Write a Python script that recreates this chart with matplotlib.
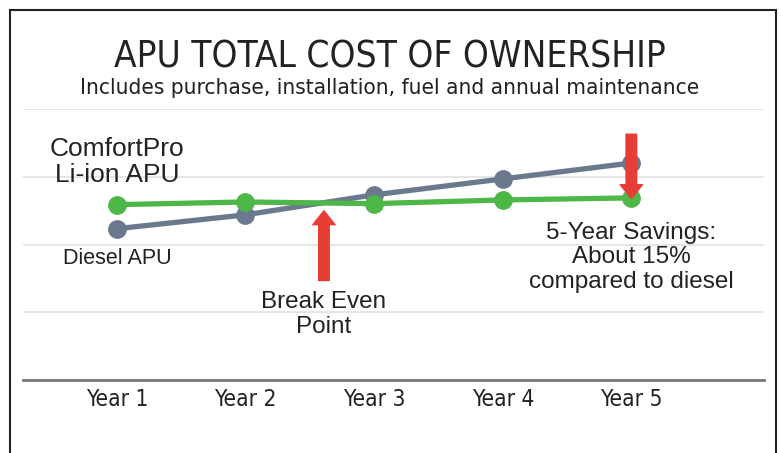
import matplotlib.pyplot as plt
from matplotlib.patches import Rectangle

years = ["Year 1", "Year 2", "Year 3", "Year 4", "Year 5"]
diesel_cost = [44.7, 48.8, 54.7, 59.4, 64.1]
liion_cost = [51.8, 52.6, 52.1, 53.2, 53.8]

DIESEL = "#6b798e"
GREEN = "#4db748"
RED = "#e63d35"
NARROW = dict(family="DejaVu Sans", stretch="condensed")
REGULAR = ["Liberation Sans", "DejaVu Sans"]


def main():
    fig = plt.figure(figsize=(7.81, 4.53), dpi=100)
    ax = fig.add_axes([0.0294, 0.161, 0.9486, 0.598])

    x = range(len(years))
    ax.plot(x, diesel_cost, color=DIESEL, lw=3.8, marker="o", ms=12.5, zorder=3)
    ax.plot(x, liion_cost, color=GREEN, lw=3.8, marker="o", ms=12.5, zorder=4)

    ax.set_xlim(-0.73, 5.03)
    ax.set_ylim(0, 80)
    ax.set_yticks([20, 40, 60, 80])
    ax.set_xticks(list(x))
    ax.set_xticklabels(years, fontsize=16.3, color="#222222", **NARROW)
    ax.tick_params(axis="x", length=0, pad=6)
    ax.tick_params(axis="y", length=0, labelleft=False)
    ax.grid(axis="y", color="#e2e2e2", lw=1.2)
    ax.set_axisbelow(True)
    for side in ["top", "left", "right"]:
        ax.spines[side].set_visible(False)
    ax.spines["bottom"].set_color("#777777")
    ax.spines["bottom"].set_linewidth(2)

    # arrows
    arrow = dict(arrowstyle="simple,head_length=0.5,head_width=0.8,tail_width=0.38",
                 color=RED, mutation_scale=20, shrinkA=0, shrinkB=0)
    ax.annotate("", xy=(1.61, 50.0), xytext=(1.61, 29.4), arrowprops=arrow, zorder=5)
    ax.annotate("", xy=(4, 53.6), xytext=(4, 72.6), arrowprops=arrow, zorder=5)

    # labels
    ax.text(0, 64.3, "ComfortPro\nLi-ion APU", ha="center", va="center",
            family=REGULAR, fontsize=19, linespacing=1.12, color="#222222")
    ax.text(0, 35.9, "Diesel APU", ha="center", va="center",
            family=REGULAR, fontsize=15.5, color="#222222")
    ax.text(1.61, 19.3, "Break Even\nPoint", ha="center", va="center",
            family=REGULAR, fontsize=17.5, linespacing=1.2, color="#222222")
    ax.text(4, 36.2, "5-Year Savings:\nAbout 15%\ncompared to diesel", ha="center",
            va="center", family=REGULAR, fontsize=17.5, linespacing=1.13, color="#222222")

    fig.text(0.4994, 0.874, "APU TOTAL COST OF OWNERSHIP", ha="center", va="center",
             fontsize=26.5, color="#222222", **NARROW)
    fig.text(0.4994, 0.806, "Includes purchase, installation, fuel and annual maintenance",
             ha="center", va="center", fontsize=16.2, color="#222222", **NARROW)

    fig.add_artist(Rectangle((10 / 781, -0.1), 766 / 781, 1.1 - 10 / 453,
                             transform=fig.transFigure, fill=False,
                             edgecolor="#222222", lw=1.5))

    fig.savefig("out.png", dpi=100)


if __name__ == "__main__":
    main()
